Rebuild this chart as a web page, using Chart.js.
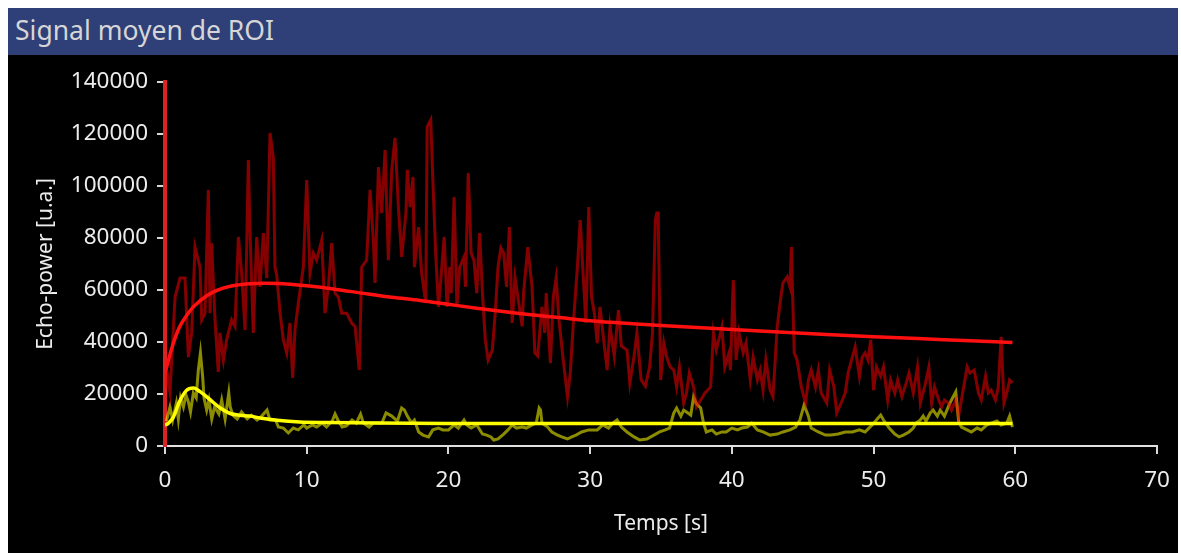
<!DOCTYPE html>
<html>
<head>
<meta charset="utf-8">
<script src="https://cdn.jsdelivr.net/npm/chart.js@4.4.1/dist/chart.umd.min.js"></script>
<style>
  html, body { margin: 0; padding: 0; background: #ffffff; width: 1181px; height: 553px; overflow: hidden; }
  #titlebar { position: absolute; left: 8px; top: 8px; width: 1170px; height: 47px; background: #2f3f78;
    font-family: "Noto Sans", sans-serif; font-size: 26.5px; color: #d6d6d6; line-height: 44px; box-sizing: border-box; padding-left: 7px; }
  #panel { position: absolute; left: 8px; top: 55px; width: 1170px; height: 498px; background: #000000; }
  #chart { position: absolute; left: 0; top: 0; }
</style>
</head>
<body>
<div id="titlebar">Signal moyen de ROI</div>
<div id="panel"><canvas id="chart" width="1164" height="498"></canvas></div>
<script>
// ---- Data ----
const chartTitle = "Signal moyen de ROI";
const xAxisTitle = "Temps [s]";
const yAxisTitle = "Echo-power [u.a.]";
const xTicks = [0, 10, 20, 30, 40, 50, 60, 70];
const yTicks = [0, 20000, 40000, 60000, 80000, 100000, 120000, 140000];

// Raw ROI 1 (dark red)
const redRawT = [0, 0.12, 0.35, 0.71, 1.06, 1.41, 1.65, 1.88, 2.12, 2.47, 2.59, 2.82, 3.06, 3.18, 3.29, 3.53, 3.76, 3.88, 4.12, 4.35, 4.70, 4.94, 5.18, 5.41, 5.65, 5.88, 6.0, 6.23, 6.47, 6.70, 6.94, 7.18, 7.41, 7.64, 7.76, 7.88, 8.12, 8.35, 8.59, 8.82, 9.01, 9.17, 9.41, 9.76, 10.0, 10.23, 10.47, 10.7, 11.06, 11.29, 11.53, 11.76, 12.0, 12.23, 12.47, 12.82, 13.17, 13.41, 13.71, 13.88, 14.23, 14.47, 14.70, 14.82, 15.06, 15.29, 15.53, 15.76, 16.0, 16.23, 16.47,
  16.7, 17.0, 17.1, 17.3, 17.5, 17.6, 17.9, 18.1, 18.4, 18.5, 18.75, 18.9, 19.1, 19.3, 19.5, 19.7, 19.9, 20.1, 20.2, 20.4, 20.6, 20.8, 21.1, 21.2, 21.4, 21.6, 21.8, 22.0, 22.2, 22.4, 22.6, 22.8, 23.1, 23.3, 23.5, 23.7, 23.9, 24.1, 24.3, 24.5, 24.7, 24.9, 25.2, 25.3, 25.6, 25.9, 26.1, 26.3, 26.6, 26.8, 26.9, 27.2, 27.4, 27.6, 27.8, 28.1, 28.4, 28.6, 28.8, 29.1, 29.3, 29.5, 29.7, 29.9, 30.1, 30.3, 30.5, 30.7, 30.9, 31.2, 31.4, 31.7, 32.0, 32.2, 32.6, 32.8, 33.1, 33.3, 33.6, 33.9, 34.2, 34.4, 34.6, 34.7,
  34.8, 34.98, 35.2, 35.4, 35.65, 35.9, 36.1, 36.3, 36.6, 36.8, 37.0, 37.3, 37.5, 37.8, 38.1, 38.5, 38.7, 38.9, 39.3, 39.5, 39.8, 39.9, 40.1, 40.3, 40.5, 40.8, 41.0, 41.3, 41.5, 41.8, 42.0, 42.2, 42.4, 42.7, 42.9, 43.2, 43.4, 43.6, 43.9, 44.1, 44.2, 44.4, 44.6, 44.9, 45.2, 45.4, 45.6, 45.9, 46.1, 46.3, 46.7, 46.9, 47.2,
  47.4, 47.8, 48.0, 48.2, 48.5, 48.7, 49.0, 49.2, 49.4, 49.6, 49.8, 50.0, 50.2, 50.5, 50.7, 51.0, 51.2, 51.5, 51.7, 52.0, 52.3, 52.5, 52.8, 53.1, 53.3, 53.6, 53.9, 54.1, 54.3, 54.6, 54.8, 55.0, 55.3, 55.5, 55.8, 56.0, 56.2, 56.6, 56.8, 57.1, 57.4, 57.6, 57.9, 58.1, 58.3, 58.6, 58.8, 59.0, 59.2, 59.4, 59.6, 59.8];
const redRawV = [22000, 29000, 20800, 57300, 64600, 64600, 34200, 43500, 76500, 68800, 48500, 51100, 98500, 51100, 78000, 48500, 28500, 43500, 33000, 40800, 48500, 46000, 80400, 66500, 44600, 110000, 81900, 43500, 80400, 61200, 81900, 64600, 120400, 111100, 68800, 65800, 51100, 40800, 35800, 47300, 26200, 44600, 55000, 68800, 102300, 66500, 74200, 71500, 79200, 51100, 61200, 78000, 58800, 57300, 51100, 51100, 47300, 46000, 29200, 68800, 71500, 98500, 79200, 62700, 107300, 89600, 113800, 71500, 106200, 118500, 91900,
  72700, 89600, 106200, 91900, 103500, 68800, 84200, 66900, 55000, 122700, 125400, 102300, 74200, 53500, 66500, 80400, 53500, 68800, 58800, 95800, 53500, 68800, 72700, 61200, 105000, 74200, 71500, 58800, 81900, 58800, 40800, 33100, 36900, 51100, 68800, 76200, 74200, 61200, 84200, 47300, 64600, 57300, 46000, 58800, 76500, 61200, 35800, 34600, 53500, 43500, 58800, 31900, 57300, 64600, 48500, 33100, 18900, 28100, 46000, 68800, 86900, 66500, 47300, 91900, 57300, 51100, 39600, 53500, 43500, 29200, 46000, 34600, 52300, 38500, 36900, 24200, 34600, 43500, 25400, 23000, 30600, 43500, 86900, 89600,
  89600, 25400, 39600, 34200, 30400, 29200, 22700, 30400, 16500, 20400, 28100, 22700, 15000, 17700, 20400, 22700, 43500, 36900, 45800, 30400, 35800, 29200, 63800, 33100, 43500, 35800, 39600, 25400, 34200, 25400, 29200, 21500, 33100, 21500, 19000, 45800, 55000, 62700, 65000, 61200, 76500, 35800, 33100, 22700, 16500, 25400, 29200, 22700, 29200, 20400, 16500, 29200, 22700,
  12700, 17700, 20400, 28100, 34200, 38100, 26800, 34200, 35800, 33100, 40800, 21500, 30400, 26800, 30400, 17700, 25400, 20400, 25400, 19000, 24200, 28100, 20400, 30400, 16500, 22700, 30400, 16500, 22700, 17700, 15000, 17700, 16500, 13800, 17700, 11500, 17700, 30400, 28100, 29200, 20400, 17700, 26800, 20400, 21500, 17700, 22700, 42000, 16500, 20400, 25400, 24200];

// Fit ROI 1 (bright red)
const redFitT = [0, 0.5, 1, 1.5, 2, 3, 4, 5, 6, 7, 8, 9, 10, 12, 14, 16, 18, 20, 22, 25, 28, 30, 33, 35, 40, 45, 50, 55, 59.8];
const redFitV = [28000, 38000, 45500, 50000, 53500, 58000, 60500, 61800, 62400, 62600, 62500, 62100, 61600, 60300, 58700, 57200, 56000, 54500, 53000, 51000, 49300, 48200, 47000, 46300, 44800, 43400, 42000, 40900, 39800];

// Raw ROI 2 (olive)
const yelRawT = [0.1, 0.35, 0.54, 0.8, 0.94, 1.1, 1.3, 1.48, 1.65, 1.8, 2.0, 2.2, 2.35, 2.5, 2.66, 2.75, 2.94, 3.1, 3.3, 3.5, 3.8, 4.0, 4.24, 4.5, 4.6, 4.8, 5.1, 5.4, 5.8, 6.1, 6.5, 6.8, 7.2, 7.4, 7.8, 8.0, 8.35, 8.7, 9.05, 9.4, 9.8, 10.0, 10.4, 10.7, 11.1, 11.4, 11.8, 12.0, 12.2, 12.5, 12.8, 13.2, 13.5, 13.8, 14.0, 14.4, 14.7,
  15.3, 15.6, 16.0, 16.4, 16.7, 16.9, 17.1, 17.4, 17.6, 17.9, 18.2, 18.6, 18.9, 19.3, 19.6, 20.0, 20.4, 20.7, 21.1, 21.3, 21.6, 22.0, 22.4, 22.7, 23.0, 23.2, 23.5, 23.9, 24.2, 24.5, 24.8, 25.2, 25.5, 25.9, 26.2, 26.4, 26.5, 26.6, 27.0, 27.3, 27.7, 28.0, 28.4, 28.7, 29.0, 29.4, 29.9,
  30.5, 30.9, 31.3, 31.6, 31.9, 32.2, 32.6, 33.1, 33.5, 34.0, 34.5, 34.9, 35.3, 35.6, 35.9, 36.1, 36.4, 36.6, 36.8, 37.1, 37.3, 37.5, 37.8, 38.0, 38.2, 38.6, 38.9, 39.3, 39.6, 40.0, 40.4, 40.7, 41.1, 41.4, 41.8, 42.2, 42.7, 43.2, 43.6, 44.1, 44.5, 44.8, 45.1,
  45.4, 45.6, 46.1, 46.6, 47.0, 47.5, 48.0, 48.5, 49.0, 49.4, 49.9, 50.2, 50.5, 50.7, 51.1, 51.5, 51.8, 52.1, 52.5, 52.8, 53.0, 53.3, 53.5, 53.7, 54.0, 54.2, 54.5, 54.7, 55.0, 55.3, 55.5, 55.8, 56.0, 56.2, 56.6, 56.9, 57.3, 57.6, 58.0, 58.3, 58.7, 59.0, 59.4, 59.6, 59.8];
const yelRawV = [9600, 15000, 10000, 16500, 10400, 18500, 15000, 19600, 17000, 13100, 20400, 18500, 29200, 35800, 26500, 18500, 13800, 17700, 10400, 15000, 12300, 17700, 10400, 20400, 15000, 11800, 10400, 13100, 10400, 11800, 10000, 11400, 13800, 10000, 10000, 7300, 6900, 5000, 6900, 6200, 8100, 6900, 8100, 7300, 8800, 7300, 9600, 12300, 10000, 7300, 7700, 10000, 8800, 12300, 8800, 7300, 8800,
  8800, 12700, 11500, 9600, 14600, 13800, 11500, 8800, 10000, 5400, 4200, 3500, 6200, 6900, 6200, 6200, 8100, 6900, 10000, 8100, 6900, 8100, 4600, 4200, 3500, 2300, 2700, 4600, 6200, 8100, 6900, 7300, 6900, 8100, 8800, 14600, 13800, 8800, 7300, 5400, 4200, 3500, 2700, 3500, 4200, 5400, 6200,
  6200, 8100, 6900, 8800, 10000, 7300, 5400, 3500, 2300, 2700, 4200, 5400, 6200, 6900, 12700, 14600, 11500, 13800, 13100, 11900, 18900, 16200, 14600, 8800, 5400, 6200, 4600, 5400, 5400, 6900, 6200, 6900, 7300, 8800, 6200, 5400, 4200, 4600, 5400, 6200, 7300, 10000, 15800,
  11500, 6900, 5400, 4200, 4200, 4600, 5400, 5400, 6200, 5400, 8100, 10000, 11900, 10000, 6900, 4600, 3500, 4200, 5400, 6900, 8800, 10000, 11500, 9600, 12700, 13800, 11500, 13800, 11500, 15400, 17700, 20800, 9600, 7300, 6200, 5400, 6900, 6200, 8100, 8800, 9600, 8100, 8800, 11500, 7300];

// Fit ROI 2 (yellow)
const yelFitT = [0, 0.25, 0.6, 1.0, 1.5, 2.0, 2.5, 3.2, 3.9, 4.6, 5.3, 6.0, 6.7, 7.9, 9.5, 11.5, 15, 20, 30, 40, 50, 59.8];
const yelFitV = [8000, 8800, 11200, 16800, 21300, 22300, 20800, 17700, 14600, 12500, 11800, 11500, 10800, 9900, 9200, 9000, 8800, 8700, 8700, 8700, 8700, 8700];

const pts = (ts, vs) => ts.map((t, i) => ({ x: t, y: vs[i] }));

const tickFont = { family: "Noto Sans", size: 22.5 };
const titleFont = { family: "Noto Sans", size: 21 };
const textColor = "#ececec";

new Chart(document.getElementById("chart"), {
  type: "line",
  data: {
    datasets: [
      { label: "ROI 1 fit", data: pts(redFitT, redFitV), borderColor: "#ff1010", borderWidth: 3.5, pointRadius: 0, cubicInterpolationMode: "monotone", order: 0 },
      { label: "ROI 2 fit", data: pts(yelFitT, yelFitV), borderColor: "#ffff00", borderWidth: 3.5, pointRadius: 0, cubicInterpolationMode: "monotone", order: 0 },
      { label: "ROI 1", data: pts(redRawT, redRawV), borderColor: "rgba(255,0,0,0.52)", borderWidth: 3, pointRadius: 0, tension: 0, order: 1 },
      { label: "ROI 2", data: pts(yelRawT, yelRawV), borderColor: "rgba(255,255,0,0.55)", borderWidth: 3, pointRadius: 0, tension: 0, order: 1 }
    ]
  },
  options: {
    responsive: false,
    animation: false,
    devicePixelRatio: 1,
    layout: { padding: { top: 27, right: 15, left: 0, bottom: 0 } },
    plugins: { legend: { display: false }, tooltip: { enabled: false }, title: { display: false } },
    scales: {
      x: {
        type: "linear", min: 0, max: 70,
        afterFit: (s) => { s.height = 107; s.paddingRight = 0; s.paddingLeft = 0; },
        afterBuildTicks: (s) => { s.ticks = xTicks.map(v => ({ value: v })); },
        ticks: { color: textColor, font: tickFont, padding: 13, maxRotation: 0 },
        grid: { display: true, drawOnChartArea: false, drawTicks: true, tickLength: 8, color: "#d8d8d8", lineWidth: 2 },
        border: { display: true, color: "#e0e0e0", width: 2 },
        title: { display: true, text: xAxisTitle, color: textColor, font: titleFont, padding: { top: 0, bottom: 16 } }
      },
      y: {
        type: "linear", min: 0, max: 140000,
        afterFit: (s) => { s.width = 157; },
        afterBuildTicks: (s) => { s.ticks = yTicks.map(v => ({ value: v })); },
        ticks: { color: textColor, font: tickFont, padding: 9, callback: (v) => String(v) },
        grid: { display: true, drawOnChartArea: false, drawTicks: true, tickLength: 8, color: "#d8d8d8", lineWidth: 2 },
        border: { display: true, color: "#dd2222", width: 4 },
        title: { display: true, text: yAxisTitle, color: textColor, font: titleFont, padding: { top: 25, bottom: 0 } }
      }
    }
  }
});
</script>
</body>
</html>
